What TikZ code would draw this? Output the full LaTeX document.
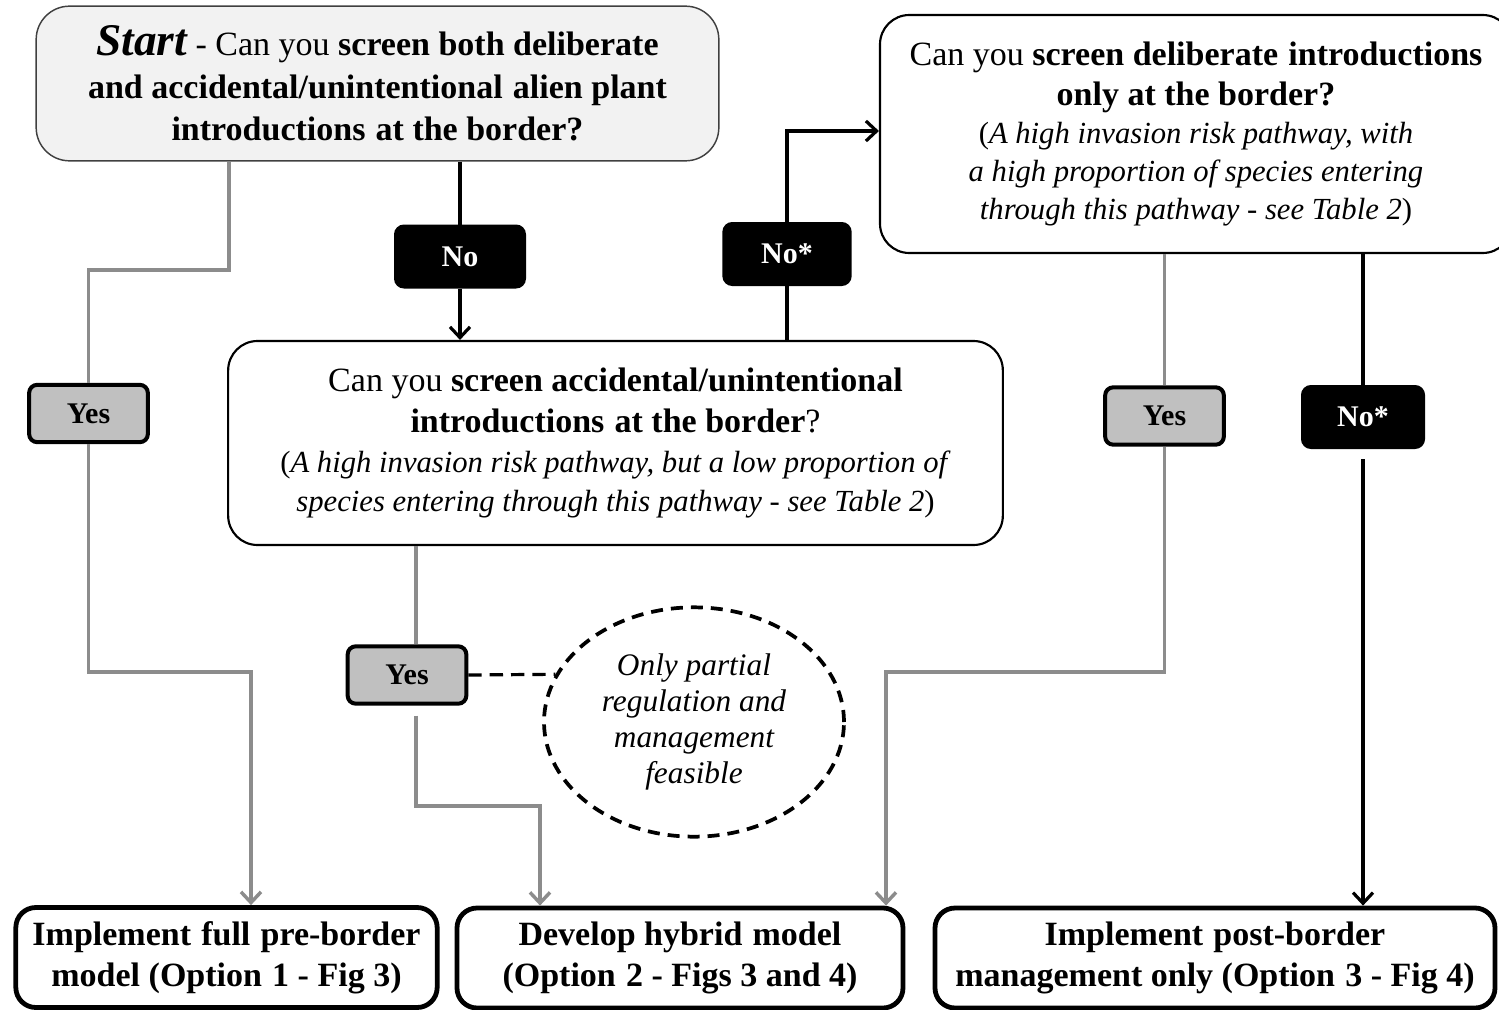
\documentclass[tikz,border=0pt]{standalone}
\usepackage{fontspec}
\setmainfont{Liberation Serif}
\usetikzlibrary{arrows.meta,shapes.geometric}
\definecolor{lgray}{HTML}{F2F2F2}
\definecolor{lblgray}{HTML}{C0C0C0}
\definecolor{lngray}{HTML}{8C8C8C}
\definecolor{bordgray}{HTML}{404040}
\newcommand{\smf}{\fontsize{23}{28.5}\selectfont}
\newcommand{\dsp}{\hspace{0.3em}}
\begin{document}
\begin{tikzpicture}[x=0.75pt,y=-0.75pt,
 qbox/.style={draw=black,line width=1.6pt,rounded corners=22pt,fill=white,inner sep=0pt,align=center},
 lab/.style={rounded corners=6pt,line width=3pt,inner sep=0pt,minimum width=89pt,minimum height=43pt,font=\fontsize{22.5}{26}\selectfont\bfseries},
 labyes/.style={lab,draw=black,fill=lblgray},
 labno/.style={lab,draw=black,fill=black,text=white},
 outbox/.style={draw=black,line width=3.6pt,rounded corners=15pt,fill=white,inner sep=0pt,minimum height=75pt,align=center,font=\fontsize{25.5}{30.5}\selectfont\bfseries},
 gline/.style={draw=lngray,line width=2.6pt},
 bline/.style={draw=black,line width=2.4pt},
 tip/.style={-{Straight Barb[length=8pt,width=15pt]}}
]
\useasboundingbox (0,0) rectangle (1499,1010);
\clip (0,0) rectangle (1499,1010);

% question boxes
\node[qbox,draw=bordgray,line width=1.1pt,fill=lgray,rounded corners=25pt,minimum width=512pt,minimum height=116pt,font=\fontsize{25.5}{32}\selectfont] (start) at (377.5,83.5)
 {{\fontsize{34}{32}\selectfont\bfseries\itshape Start} - Can you \textbf{screen both deliberate}\\ \textbf{and accidental/unintentional\dsp alien plant}\\ \textbf{introductions\dsp at the border?}};

\node[qbox,minimum width=474pt,minimum height=178.5pt,font=\fontsize{25.5}{28.5}\selectfont] (tr) at (1196,134)
 {Can you \textbf{screen deliberate\dsp introductions}\\[1pt] \textbf{only at the border?}\\ {\smf(\textit{A high invasion risk pathway, with}}\\ {\smf\textit{a high proportion of species entering}}\\ {\smf\textit{through this pathway - see Table 2})}};

\node[qbox,minimum width=581pt,minimum height=153pt,font=\fontsize{25.5}{29.5}\selectfont] (mid) at (615.5,443)
 {Can you \textbf{screen accidental/unintentional}\\[1.5pt] \textbf{introductions\dsp at the border}?\\[0.5pt] {\smf(\textit{A high invasion risk pathway, but a low proportion of}}\\ {\smf\textit{species entering through this pathway - see Table 2})}};

\node[ellipse,draw=black,line width=2.8pt,dash pattern=on 9pt off 6pt,fill=white,minimum width=225pt,minimum height=172pt,inner sep=0pt,align=center,font=\fontsize{23.5}{27}\selectfont\itshape] (ell) at (694,722)
 {Only partial\\regulation and\\management\\feasible};

% labels
\node[labno,minimum width=96pt,minimum height=45pt] (no1) at (460,256.5) {No};
\node[labno,minimum width=94pt,minimum height=45pt] (no2) at (787,254) {No*};
\node[labyes] (yes1) at (88.5,413.5) {Yes};
\node[labyes] (yes2) at (407,675) {Yes};
\node[labyes] (yes3) at (1164.5,416) {Yes};
\node[labno,minimum width=90pt,minimum height=45pt] (no3) at (1363,417) {No*};

% outcome boxes
\node[outbox,minimum width=316pt] (opt1) at (226.5,957.5) {Implement\dsp full\dsp pre-border\\ model (Option\dsp 1 - Fig 3)};
\node[outbox,minimum width=334.5pt] (opt2) at (680,958) {Develop hybrid\dsp model\\ (Option\dsp 2 - Figs 3 and 4)};
\node[outbox,minimum width=420pt] (opt3) at (1215,958) {Implement\dsp post-border\\ management only (Option\dsp 3 - Fig 4)};

% bend points
\coordinate (c1) at (229,270);
\coordinate (c2) at (251,672);
\coordinate (c3) at (787,131);
\coordinate (c4) at (416,806);
\coordinate (c5) at (540,806);
\coordinate (c6) at (886,672);

% connectors
\draw[gline] (start.south -| c1) -- (c1) -| (yes1.north);
\draw[gline,tip] (yes1.south) |- (c2) -- (opt1.north -| c2);
\draw[bline] (start.south -| no1) -- (no1.north);
\draw[bline,tip] (no1.south) -- (mid.north -| no1);
\draw[bline] (mid.north -| no2) -- (no2.south);
\draw[bline,tip] (no2.north) |- (tr.west |- c3);
\draw[gline] (mid.south -| c4) -- (yes2.north -| c4);
\draw[gline,tip,shorten <=7.5pt] (yes2.south -| c4) -- (c4) -- (c5) -- (opt2.north -| c5);
\draw[bline,dash pattern=on 10pt off 6pt] (yes2.east) -- (ell.161);
\draw[gline] (tr.south -| yes3) -- (yes3.north);
\draw[gline,tip] (yes3.south) |- (c6) -- (opt2.north -| c6);
\draw[bline] (tr.south -| no3) -- (no3.north);
\draw[bline,tip,shorten <=7.5pt] (no3.south) -- (opt3.north -| no3);
\end{tikzpicture}
\end{document}
